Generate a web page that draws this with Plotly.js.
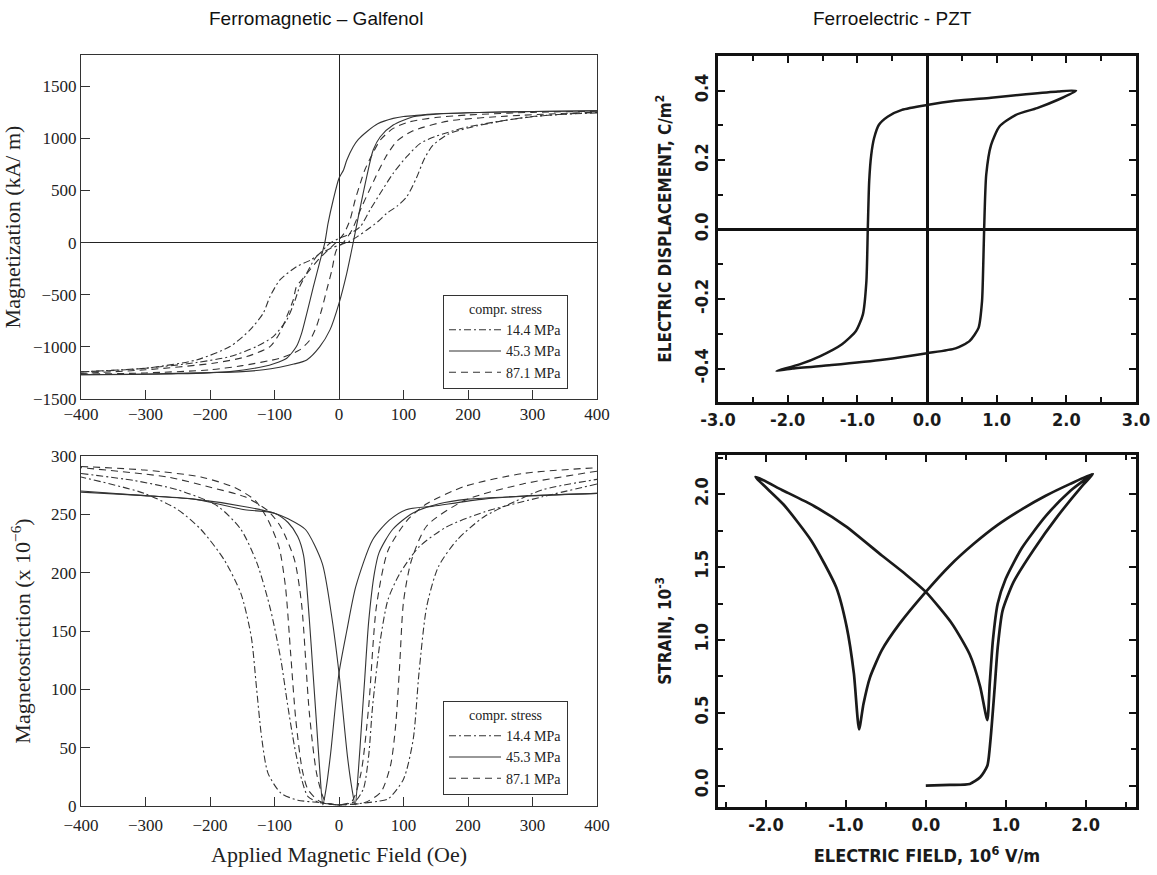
<!DOCTYPE html>
<html>
<head>
<meta charset="utf-8">
<script src="https://cdn.plot.ly/plotly-3.0.1.min.js"></script>
<style>
html,body{margin:0;padding:0;background:#fff;}
#chart{width:1157px;height:875px;}
</style>
</head>
<body>
<div id="chart"></div>
<script>
// ---------------- DATA ----------------
// Galfenol magnetization (kA/m) vs applied field (Oe)
const mag144AscH  = [-400,-300,-221,-169,-128,-102,-81,-68,-61,-50,-35,-15,0,15,29,43,60,74,90,105,120,132,145,169,200,260,320,400];
const mag144AscM  = [-1240,-1205,-1150,-1093,-997,-901,-741,-550,-422,-294,-134,-60,-25,10,60,121,200,281,350,440,620,800,930,1040,1100,1175,1220,1250];
const mag144DescH = [400,300,200,150,126,105,84,64,48,33,15,0,-15,-29.5,-45,-65.7,-91.6,-107,-117.5,-138,-169,-221,-300,-400];
const mag144DescM = [1245,1210,1110,1020,952,825,665,473,313,153,80,40,-10,-102,-170,-230,-358,-518,-677,-837,-997,-1125,-1205,-1240];

const mag453AscH  = [-400,-300,-200,-150,-117,-92,-70,-50,-30,-14,0,12,22,30,43,53,64,84,115,150,200,300,400];
const mag453AscM  = [-1268,-1260,-1247,-1237,-1220,-1195,-1165,-1125,-1000,-837,-582,-294,0,249,633,888,1016,1128,1208,1232,1246,1258,1265];
const mag453DescH = [400,300,200,150,126,100,84,60,43,30,22,12,7,0,-9,-17,-22,-30,-40,-50,-58,-66,-81,-100,-117,-169,-250,-400];
const mag453DescM = [1265,1258,1246,1236,1224,1210,1192,1140,1064,990,920,790,697,617,409,185,0,-190,-430,-680,-870,-997,-1109,-1160,-1189,-1237,-1258,-1268];

const mag871AscH  = [-400,-300,-200,-150,-92,-61,-45,-35,-27,-19,-11,-4,8,20,35,54,72,90,114,169,260,400];
const mag871AscM  = [-1262,-1250,-1220,-1180,-1109,-1029,-933,-805,-646,-454,-262,-70,10,120,340,594,817,975,1071,1166,1214,1252];
const mag871DescH = [400,300,200,150,110,84,64,51,40,33,25,17,8,0,-15,-30,-45,-58,-66,-71,-81,-92,-107,-143,-195,-300,-400];
const mag871DescM = [1260,1250,1225,1200,1160,1096,984,840,697,569,409,217,90,30,-60,-150,-260,-360,-422,-550,-709,-869,-997,-1093,-1157,-1220,-1255];

// Galfenol magnetostriction (x1e-6) vs applied field (Oe)
const ms144AscH  = [-400,-318,-250,-188,-152,-127,-106,-90,-80,-69,-58,-48,-30,0,30,60,76,100,115,124,136,154,183,225,273,315,400];
const ms144AscL  = [285,279,271,257,237,208,168,125,88,51,23,8,3,1,2,4,6,23,57,114,171,205,228,248,261,271,280];
const ms144DescH = [400,315,225,166,124,94,76,64,52,46,38,25,0,-30,-64,-90,-110,-120,-128,-136,-152,-178,-214,-250,-302,-400];
const ms144DescL = [276,265,252,239,222,199,177,142,85,43,15,4,1,3,5,11,28,59,102,145,182,211,237,254,268,282];

const ms453AscH  = [-400,-300,-225,-150,-100,-78,-52,-26,-12,0,13,20,25,30,35,40,46,55,62,83,114,155,200,300,400];
const ms453AscL  = [269,266,263,257,251,246,237,208,165,114,43,15,1,30,70,110,158,200,217,237,251,259,263,266,268];
const ms453DescH = [400,300,224,146,104,78,52,26,12,0,-13,-20,-25,-30,-35,-40,-46,-55,-64,-79,-100,-146,-224,-302,-400];
const ms453DescL = [268,266,263,257,254,245,228,188,150,114,45,15,1,32,72,112,160,215,231,243,251,254,263,266,270];

const ms871AscH  = [-400,-302,-214,-162,-130,-110,-93,-83,-75,-67,-57,-48,-30,0,20,34,46,58,76,106,136,195,285,400];
const ms871AscL  = [291,288,282,273,262,245,222,188,131,74,31,14,4,1,4,28,85,171,219,245,259,274,285,290];
const ms871DescH = [400,285,195,136,112,100,94,88,80,65,40,0,-20,-34,-46,-58,-69,-90,-110,-146,-198,-266,-400];
const ms871DescL = [287,276,262,240,210,175,120,70,35,12,3,1,3,26,80,173,211,239,253,265,273,282,290];

// PZT electric displacement (C/m^2) vs electric field (1e6 V/m)
const peLoopE = [2.14,1.88,1.42,0.92,0.41,0,-0.36,-0.56,-0.69,-0.76,-0.80,-0.83,-0.85,-0.87,-0.92,-1.02,-1.22,-1.53,-1.83,-2.16,
                 -1.93,-1.37,-0.61,0,0.41,0.61,0.74,0.79,0.81,0.82,0.85,0.92,1.04,1.27,1.58,1.88,2.14];
const peLoopD = [0.400,0.398,0.390,0.380,0.371,0.359,0.345,0.326,0.302,0.263,0.216,0.139,0,-0.149,-0.244,-0.292,-0.330,-0.364,-0.388,-0.407,
                 -0.400,-0.390,-0.374,-0.356,-0.342,-0.321,-0.283,-0.206,-0.081,0,0.158,0.244,0.297,0.330,0.350,0.374,0.400];

// PZT strain (1e-3) vs electric field (1e6 V/m): virgin curve then full butterfly
const strainE = [0,0.3,0.55,0.68,0.77,0.81,0.86,0.90,0.96,1.10,1.35,1.65,1.96,2.09,
                 1.80,1.50,1.21,0.90,0.60,0.30,0,-0.33,-0.55,-0.70,-0.78,-0.835,
                 -0.90,-0.99,-1.12,-1.43,-1.78,-2.13,
                 -1.80,-1.40,-1.00,-0.55,-0.25,0,0.33,0.55,0.68,0.77,
                 0.80,0.84,0.90,1.00,1.20,1.50,1.80,2.09];
const strainS = [0,0.005,0.011,0.057,0.136,0.318,0.66,0.95,1.20,1.40,1.62,1.85,2.06,2.14,
                 2.07,1.99,1.90,1.79,1.66,1.51,1.33,1.11,0.93,0.74,0.56,0.386,
                 0.77,1.09,1.36,1.68,1.93,2.12,
                 2.03,1.92,1.78,1.58,1.45,1.33,1.11,0.90,0.68,0.45,
                 0.70,1.00,1.25,1.42,1.63,1.85,2.02,2.14];

// legend names and tick labels
const stressNames = ['14.4 MPa','45.3 MPa','87.1 MPa'];
const peXTickVals = [-3,-2,-1,0,1,2,3];
const peXTickText = ['-3.0','-2.0','-1.0','0.0','1.0','2.0','3.0'];
const peYTickVals = [-0.4,-0.2,0,0.2,0.4];
const peYTickText = ['-0.4','-0.2','0.0','0.2','0.4'];
const stXTickVals = [-2,-1,0,1,2];
const stXTickText = ['-2.0','-1.0','0.0','1.0','2.0'];
const stYTickVals = [0,0.5,1,1.5,2];
const stYTickText = ['0.0','0.5','1.0','1.5','2.0'];

// ---------------- STYLE ----------------
const SERIF = 'Liberation Serif, Times New Roman, serif';
const PZTF = 'DejaVu Sans Condensed, Liberation Sans Narrow, DejaVu Sans, sans-serif';
const lineCol = '#333';
const dashes = ['7px,3px,2px,3px', 'solid', '7px,5px'];
const W = 1157, Hh = 875;

function galTrace(x, y, i, xa, ya, leg, show) {
  return {
    x: x, y: y, xaxis: xa, yaxis: ya, type: 'scatter', mode: 'lines',
    name: stressNames[i], legendgroup: leg + i, legend: leg, showlegend: show,
    line: {color: lineCol, width: 1.1, dash: dashes[i], shape: 'spline', smoothing: 0.7},
    hoverinfo: 'skip'
  };
}

const traces = [
  galTrace(mag144AscH, mag144AscM, 0, 'x', 'y', 'legend', true),
  galTrace(mag144DescH, mag144DescM, 0, 'x', 'y', 'legend', false),
  galTrace(mag453AscH, mag453AscM, 1, 'x', 'y', 'legend', true),
  galTrace(mag453DescH, mag453DescM, 1, 'x', 'y', 'legend', false),
  galTrace(mag871AscH, mag871AscM, 2, 'x', 'y', 'legend', true),
  galTrace(mag871DescH, mag871DescM, 2, 'x', 'y', 'legend', false),
  galTrace(ms144AscH, ms144AscL, 0, 'x2', 'y2', 'legend2', true),
  galTrace(ms144DescH, ms144DescL, 0, 'x2', 'y2', 'legend2', false),
  galTrace(ms453AscH, ms453AscL, 1, 'x2', 'y2', 'legend2', true),
  galTrace(ms453DescH, ms453DescL, 1, 'x2', 'y2', 'legend2', false),
  galTrace(ms871AscH, ms871AscL, 2, 'x2', 'y2', 'legend2', true),
  galTrace(ms871DescH, ms871DescL, 2, 'x2', 'y2', 'legend2', false),
  {x: peLoopE, y: peLoopD, xaxis: 'x3', yaxis: 'y3', type: 'scatter', mode: 'lines', showlegend: false,
   line: {color: '#1a1a1a', width: 2.5, shape: 'spline', smoothing: 0.6}, hoverinfo: 'skip'},
  {x: strainE, y: strainS, xaxis: 'x4', yaxis: 'y4', type: 'scatter', mode: 'lines', showlegend: false,
   line: {color: '#1a1a1a', width: 2.7, shape: 'spline', smoothing: 0.6}, hoverinfo: 'skip'}
];

function galAxis(extra) {
  return Object.assign({
    showline: true, linecolor: '#333', linewidth: 1, mirror: true,
    ticks: 'inside', ticklen: 9, tickwidth: 1, tickcolor: '#333',
    showgrid: false, zeroline: false,
    tickfont: {family: SERIF, size: 17, color: '#222'},
    fixedrange: true
  }, extra);
}
function pztAxis(minorStep, extra) {
  return Object.assign({
    showline: true, linecolor: '#111', linewidth: 3, mirror: 'ticks',
    ticks: 'inside', ticklen: 7, tickwidth: 2, tickcolor: '#111',
    showgrid: false, zeroline: false, tickmode: 'array',
    minor: {tickmode: 'linear', tick0: 0, dtick: minorStep, ticks: 'inside', ticklen: 5, tickwidth: 2, tickcolor: '#111', showgrid: false},
    tickfont: {family: PZTF, size: 18, color: '#1a1a1a', weight: 'bold'},
    fixedrange: true
  }, extra);
}

const legendBase = {
  xanchor: 'left', yanchor: 'top',
  bgcolor: '#fff', bordercolor: '#333', borderwidth: 1,
  font: {family: SERIF, size: 14, color: '#222'},
  title: {text: 'compr. stress', side: 'top center', font: {family: SERIF, size: 14, color: '#222'}},
  tracegroupgap: 0, itemwidth: 52, entrywidth: 140, entrywidthmode: 'pixels'
};

const layout = {
  width: W, height: Hh,
  margin: {l: 0, r: 0, t: 0, b: 0},
  paper_bgcolor: '#fff', plot_bgcolor: '#fff',
  showlegend: true,
  xaxis: galAxis({domain: [81/W, 597/W], anchor: 'y', range: [-400, 400], dtick: 100, tick0: 0,
                  zeroline: true, zerolinecolor: '#222', zerolinewidth: 1}),
  yaxis: galAxis({domain: [1-399/Hh, 1-55/Hh], anchor: 'x', range: [-1500, 1800], dtick: 500, tick0: 0,
                  zeroline: true, zerolinecolor: '#222', zerolinewidth: 1,
                  title: {text: 'Magnetization (kA/ m)', font: {family: SERIF, size: 22, color: '#222'}, standoff: 6}}),
  xaxis2: galAxis({domain: [81/W, 597/W], anchor: 'y2', range: [-400, 400], dtick: 100, tick0: 0,
                   ticklabelstandoff: 4,
                   title: {text: 'Applied Magnetic Field (Oe)', font: {family: SERIF, size: 22, color: '#222'}, standoff: 12}}),
  yaxis2: galAxis({domain: [1-806/Hh, 1-456/Hh], anchor: 'x2', range: [0, 300], dtick: 50, tick0: 0,
                   title: {text: 'Magnetostriction (x 10<sup>−6</sup>)', font: {family: SERIF, size: 22, color: '#222'}, standoff: 14}}),
  xaxis3: pztAxis(0.5, {domain: [718/W, 1136/W], anchor: 'y3', range: [-3, 3],
                   tickvals: peXTickVals, ticktext: peXTickText,
                   zeroline: true, zerolinecolor: '#111', zerolinewidth: 3}),
  yaxis3: pztAxis(0.1, {domain: [1-401.5/Hh, 1-56/Hh], anchor: 'x3', range: [-0.495, 0.5],
                   tickvals: peYTickVals, ticktext: peYTickText, tickangle: -90,
                   zeroline: true, zerolinecolor: '#111', zerolinewidth: 3,
                   title: {text: 'ELECTRIC DISPLACEMENT, C/m<sup>2</sup>', font: {family: PZTF, size: 17, color: '#1a1a1a', weight: 'bold'}, standoff: 15}}),
  xaxis4: pztAxis(0.5, {domain: [718/W, 1136/W], anchor: 'y4', range: [-2.6, 2.63],
                   tickvals: stXTickVals, ticktext: stXTickText,
                   title: {text: 'ELECTRIC FIELD, 10<sup>6</sup> V/m', font: {family: PZTF, size: 18, color: '#1a1a1a', weight: 'bold'}, standoff: 16}}),
  yaxis4: pztAxis(0.25, {domain: [1-806.7/Hh, 1-455/Hh], anchor: 'x4', range: [-0.145, 2.27],
                   tickvals: stYTickVals, ticktext: stYTickText, tickangle: -90,
                   title: {text: 'STRAIN, 10<sup>-3</sup>', font: {family: PZTF, size: 17, color: '#1a1a1a', weight: 'bold'}, standoff: 15}}),
  legend: Object.assign({}, legendBase, {x: 443/W, y: 1-295/Hh}),
  legend2: Object.assign({}, legendBase, {x: 443/W, y: 1-701/Hh}),
  annotations: [
    {text: 'Ferromagnetic – Galfenol', xref: 'paper', yref: 'paper', x: 316/W, y: 1-18/Hh,
     xanchor: 'center', yanchor: 'middle', showarrow: false,
     font: {family: 'Liberation Sans, Arial, sans-serif', size: 19, color: '#111'}},
    {text: 'Ferroelectric - PZT', xref: 'paper', yref: 'paper', x: 892/W, y: 1-18/Hh,
     xanchor: 'center', yanchor: 'middle', showarrow: false,
     font: {family: 'Liberation Sans, Arial, sans-serif', size: 19, color: '#111'}}
  ]
};

Plotly.newPlot('chart', traces, layout, {staticPlot: true, displayModeBar: false});
</script>
</body>
</html>
